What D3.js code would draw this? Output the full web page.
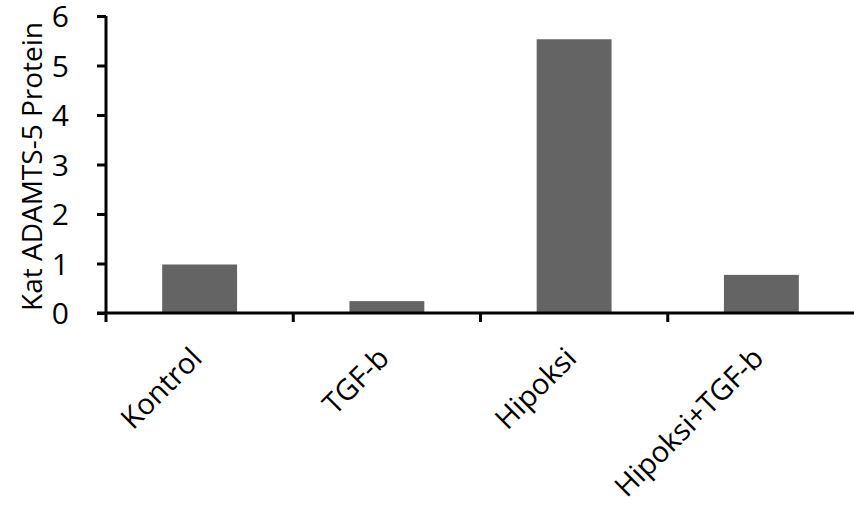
<!DOCTYPE html>
<html><head><meta charset="utf-8">
<script src="https://cdn.jsdelivr.net/npm/d3@7"></script>
<style>body{margin:0;background:#fff}svg{display:block}text{font-family:"Open Sans",sans-serif;fill:#000}</style>
</head><body><svg width="854" height="513"></svg>
<script>
const categories = ["Kontrol", "TGF-b", "Hipoksi", "Hipoksi+TGF-b"];
const values = [0.98, 0.24, 5.53, 0.77];
const yTicks = [0, 1, 2, 3, 4, 5, 6];
const yTitle = "Kat ADAMTS-5 Protein";

const svg = d3.select("svg");
const x0 = 106, x1 = 855, yTop = 16, yBot = 313;
const x = d3.scaleBand().domain(categories).range([x0, x1]).paddingInner(0.6).paddingOuter(0.3);
const y = d3.scaleLinear().domain([0, 6]).range([yBot, yTop]);

svg.selectAll("rect.bar").data(values).join("rect").attr("class", "bar")
  .attr("x", (d, i) => x(categories[i])).attr("width", x.bandwidth())
  .attr("y", d => y(d)).attr("height", d => y(0) - y(d)).attr("fill", "#646464");

// y axis
const ya = svg.append("g").attr("transform", `translate(${x0},0)`)
  .call(d3.axisLeft(y).tickValues(yTicks).tickSize(9).tickPadding(28).tickFormat(d3.format("d")));
ya.select(".domain").attr("stroke", "#000").attr("stroke-width", 3).attr("d", `M0,${yTop}V${yBot+9}`);
ya.selectAll(".tick line").attr("stroke", "#000").attr("stroke-width", 3);
ya.selectAll(".tick text").style("font-size", "30px").attr("dy", "0.36em");

// x axis
const bounds = d3.range(1, categories.length + 1).map(i => x0 + i * (x1 - x0) / categories.length);
const xa = svg.append("g");
xa.append("line").attr("x1", x0 - 9).attr("x2", 854).attr("y1", yBot).attr("y2", yBot).attr("stroke", "#000").attr("stroke-width", 3);
xa.selectAll("line.t").data(bounds.slice(0, 3)).join("line").attr("class", "t")
  .attr("x1", d => d).attr("x2", d => d).attr("y1", yBot).attr("y2", yBot + 9).attr("stroke", "#000").attr("stroke-width", 3);
xa.selectAll("text").data(categories).join("text")
  .attr("transform", d => `translate(${x(d) + x.bandwidth() / 2 + 4},${yBot + 47}) rotate(-45)`)
  .attr("text-anchor", "end").style("font-size", "29px").text(d => d);

svg.append("text").attr("transform", `translate(42,${(yTop + yBot) / 2 + 2}) rotate(-90)`)
  .attr("text-anchor", "middle").style("font-size", "28px").text(yTitle);
</script></body></html>
